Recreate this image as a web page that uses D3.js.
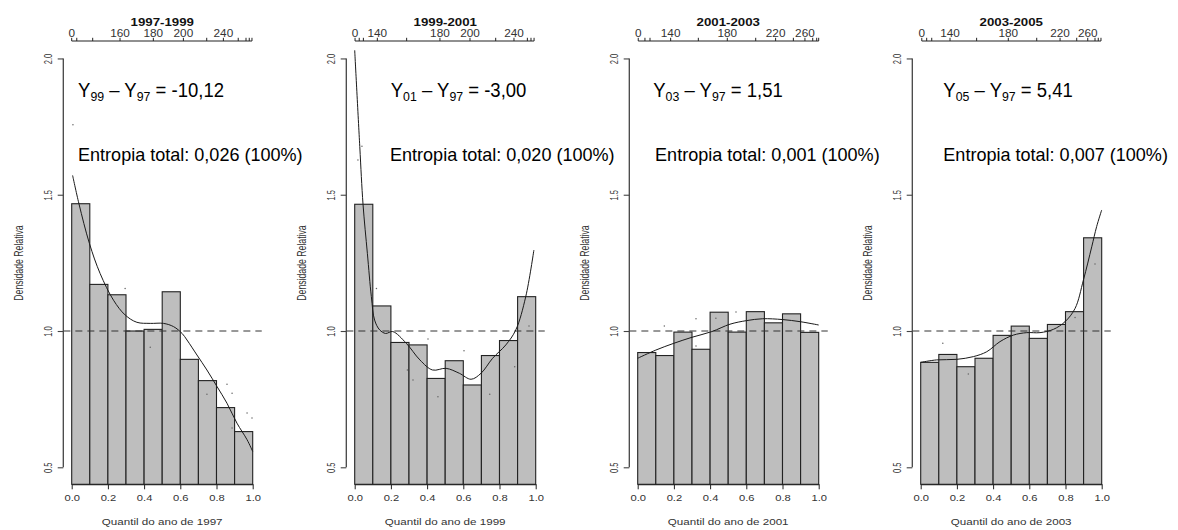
<!DOCTYPE html>
<html><head><meta charset="utf-8">
<script src="https://cdn.jsdelivr.net/npm/d3@7"></script>
<style>
html,body{margin:0;padding:0;background:#fff;}
svg{display:block;font-family:"Liberation Sans",Arial,sans-serif;}
</style></head>
<body>
<svg id="chart" width="1178" height="530"></svg>
<script>
// ---------- data ----------
const binEdges = [0,0.1,0.2,0.3,0.4,0.5,0.6,0.7,0.8,0.9,1.0];
const panelTitles = ["1997-1999","1999-2001","2001-2003","2003-2005"];
const xAxisTitles = ["Quantil do ano de 1997","Quantil do ano de 1999","Quantil do ano de 2001","Quantil do ano de 2003"];
const yAxisTitle = "Densidade Relativa";
const yTicks = [0.5,1.0,1.5,2.0];
const xTicks = [0,0.2,0.4,0.6,0.8,1.0];
const diffSub = ["99","01","03","05"];
const diffBaseSub = "97";
const diffValues = ["-10,12","-3,00","1,51","5,41"];
const entropyValues = ["0,026","0,020","0,001","0,007"];

const bars1 = [1.467,1.171,1.133,1.000,1.006,1.144,0.896,0.818,0.719,0.631];
const bars2 = [1.465,1.092,0.958,0.949,0.826,0.891,0.802,0.910,0.965,1.126];
const bars3 = [0.921,0.910,0.996,0.933,1.069,0.996,1.071,1.030,1.063,0.995];
const bars4 = [0.885,0.914,0.869,0.900,0.984,1.018,0.973,1.024,1.071,1.342];

const curve1X = [0.005,0.04,0.098,0.157,0.231,0.295,0.36,0.434,0.507,0.563,0.61,0.637,0.692,0.747,0.803,0.858,0.913,0.969,1.0];
const curve1Y = [1.571,1.467,1.321,1.211,1.113,1.059,1.032,1.028,1.028,1.016,0.991,0.967,0.912,0.857,0.796,0.735,0.662,0.601,0.558];
const curve2X = [0.0,0.028,0.046,0.07,0.092,0.11,0.138,0.171,0.21,0.285,0.36,0.43,0.505,0.578,0.643,0.698,0.762,0.835,0.89,0.945,0.99];
const curve2Y = [2.03,1.677,1.465,1.285,1.126,1.04,1.004,0.991,0.998,0.955,0.894,0.857,0.863,0.845,0.823,0.845,0.9,0.949,1.004,1.126,1.297];
const curve3X = [0,0.1,0.2,0.3,0.41,0.51,0.6,0.69,0.8,0.9,1.0];
const curve3Y = [0.9,0.93,0.955,0.977,0.998,1.025,1.038,1.045,1.042,1.034,1.022];
const curve4X = [0,0.088,0.199,0.291,0.365,0.438,0.512,0.586,0.659,0.733,0.797,0.853,0.899,0.945,0.972,1.0];
const curve4Y = [0.885,0.894,0.896,0.906,0.924,0.961,0.985,0.994,0.994,1.006,1.034,1.083,1.187,1.309,1.383,1.444];

const dots1 = [[0.007,1.757],[0.295,1.156],[0.434,0.94],[0.747,0.768],[0.858,0.805],[0.886,0.772],[0.969,0.699],[0.996,0.681],[0.886,0.644]];
const dots2 = [[0.04,1.678],[0.018,1.627],[0.12,1.156],[0.405,0.971],[0.604,0.928],[0.291,0.857],[0.322,0.82],[0.46,0.759],[0.746,0.768],[0.884,0.869],[0.963,1.018]];
const dots3 = [[0.147,1.018],[0.322,1.045],[0.322,0.945],[0.432,1.047],[0.543,1.07]];
const dots4 = [[0.122,0.955],[0.263,0.842],[0.853,1.05],[0.963,1.246]];

// top axis: original-value ticks placed at their quantile
const topTickPos1 = [0,0.028,0.116,0.267,0.451,0.617,0.746,0.838,0.920,0.963,0.981,0.996];
const topTickVal1 = ["0","120","140","160","180","200","220","240","260","280","300","320"];
const topTickShow1 = ["0","160","180","200","240"];
const topTickPos2 = [0.002,0.025,0.048,0.125,0.287,0.471,0.637,0.779,0.880,0.954,0.974,0.991];
const topTickVal2 = ["0","100","120","140","160","180","200","220","240","260","280","300"];
const topTickShow2 = ["0","140","180","200","240"];
const topTickPos3 = [0.003,0.040,0.068,0.182,0.335,0.495,0.652,0.762,0.860,0.924,0.967,0.989,1.0];
const topTickVal3 = ["0","100","120","140","160","180","200","220","240","260","280","300","320"];
const topTickShow3 = ["0","140","180","220","260"];
const topTickPos4 = [0.006,0.033,0.061,0.162,0.309,0.484,0.641,0.770,0.862,0.923,0.963,0.981,0.996];
const topTickVal4 = ["0","100","120","140","160","180","200","220","240","260","280","300","320"];
const topTickShow4 = ["0","140","180","220","260"];

const textPosY = [0.035,0.199,0.086,0.125];
const textPosE = [0.035,0.195,0.096,0.125];

const panels = [
  {bars:bars1, cx:curve1X, cy:curve1Y, dots:dots1, tp:topTickPos1, tv:topTickVal1, ts:topTickShow1},
  {bars:bars2, cx:curve2X, cy:curve2Y, dots:dots2, tp:topTickPos2, tv:topTickVal2, ts:topTickShow2},
  {bars:bars3, cx:curve3X, cy:curve3Y, dots:dots3, tp:topTickPos3, tv:topTickVal3, ts:topTickShow3},
  {bars:bars4, cx:curve4X, cy:curve4Y, dots:dots4, tp:topTickPos4, tv:topTickVal4, ts:topTickShow4}
];

// ---------- drawing ----------
const svg = d3.select("#chart");
const y = d3.scaleLinear().domain([0.4376, 2.064]).range([484.3, 41]);
const ink = "#222";
const smallInk = "#333";

panels.forEach((p, k) => {
  const x0 = 71.7 + k*283;
  const x = d3.scaleLinear().domain([0,1]).range([x0, x0+181]);
  const g = svg.append("g");

  // bars
  g.selectAll("rect.bar").data(p.bars).join("rect")
    .attr("x", (d,i) => x(binEdges[i]))
    .attr("width", (d,i) => x(binEdges[i+1]) - x(binEdges[i]))
    .attr("y", d => y(d))
    .attr("height", d => y.range()[0] - y(d))
    .attr("fill", "#bebebe").attr("stroke", ink).attr("stroke-width", 1.1);

  // reference line
  g.append("line")
    .attr("x1", x(-0.046)).attr("x2", x(1.05))
    .attr("y1", y(1)).attr("y2", y(1))
    .attr("stroke", "#333").attr("stroke-width", 1).attr("stroke-dasharray", "7,5");

  // dots
  g.selectAll("circle").data(p.dots).join("circle")
    .attr("cx", d => x(d[0])).attr("cy", d => y(d[1]))
    .attr("r", 0.75).attr("fill", "#666");

  // smooth curve
  const pts = p.cx.map((v,i) => [v, p.cy[i]]);
  g.append("path").datum(pts)
    .attr("d", d3.line().x(d => x(d[0])).y(d => y(d[1])).curve(d3.curveCatmullRom.alpha(0.5)))
    .attr("fill", "none").attr("stroke", "#1a1a1a").attr("stroke-width", 1);

  // bottom axis
  const bAxis = g.append("g").attr("transform", `translate(0,${y.range()[0]})`)
    .call(d3.axisBottom(x).tickValues(xTicks).tickSize(5).tickSizeOuter(0).tickFormat(d3.format(".1f")));
  bAxis.select(".domain").attr("stroke", ink).attr("stroke-width", 1.1);
  bAxis.selectAll(".tick line").attr("stroke", ink);
  bAxis.selectAll(".tick text").attr("font-size", 9.3).attr("fill", smallInk)
    .attr("font-family", "Liberation Sans, Arial, sans-serif")
    .attr("y", 0).attr("dy", 0)
    .attr("transform", "translate(0,16.7) scale(1.2,1)");

  // x title
  g.append("text").attr("transform", `translate(${x(0.5)},525) scale(1.25,1)`)
    .attr("text-anchor", "middle").attr("font-size", 9.3).attr("fill", smallInk)
    .text(xAxisTitles[k]);

  // left axis
  const axX = x0 - 8.4;
  const lAxis = g.append("g").attr("transform", `translate(${axX},0)`)
    .call(d3.axisLeft(y).tickValues(yTicks).tickSize(5.6).tickSizeOuter(0).tickFormat(d3.format(".1f")));
  lAxis.select(".domain").attr("d", `M0,${y(0.5)}V${y(2.0)}`).attr("stroke", "#444").attr("stroke-width", 1.3);
  lAxis.selectAll(".tick line").attr("stroke", "#444").attr("stroke-width", 1.1);
  lAxis.selectAll(".tick text").attr("font-size", 7.5).attr("fill", smallInk)
    .attr("font-family", "Liberation Sans, Arial, sans-serif")
    .attr("x", 0).attr("dy", 0).attr("text-anchor", "middle")
    .attr("transform", "translate(-11.6,0) rotate(-90) scale(1,1.4)");

  g.append("text").attr("transform", `translate(${axX-40},263) rotate(-90) scale(1,1.45)`)
    .attr("text-anchor", "middle").attr("font-size", 8.7).attr("fill", smallInk)
    .text(yAxisTitle);

  // top axis (quantile positions of original values)
  const tg = g.append("g");
  tg.append("line").attr("x1", x(d3.min(p.tp))).attr("x2", x(d3.max(p.tp)))
    .attr("y1", 41).attr("y2", 41).attr("stroke", ink).attr("stroke-width", 1.1);
  tg.selectAll("line.tk").data(p.tp).join("line").attr("class","tk")
    .attr("x1", d => x(d)).attr("x2", d => x(d)).attr("y1", 41).attr("y2", 37.8)
    .attr("stroke", ink).attr("stroke-width", 1);
  tg.selectAll("text.tl").data(p.tp.map((v,i) => ({q:v, lab:p.tv[i]})).filter(d => p.ts.includes(d.lab)))
    .join("text").attr("class","tl")
    .attr("transform", d => `translate(${x(d.q)},36.7) scale(1.18,1)`)
    .attr("text-anchor", "middle").attr("font-size", 10).attr("fill", smallInk)
    .text(d => d.lab);
  tg.append("text").attr("transform", `translate(${x(0.5)},25.7) scale(1.3,1)`)
    .attr("text-anchor", "middle").attr("font-size", 10.2).attr("font-weight", "bold").attr("fill", "#111")
    .text(panelTitles[k]);

  // annotations
  const t1 = g.append("text").attr("transform", `translate(${x(textPosY[k])},97.3) scale(0.95,1)`)
    .attr("font-size", 19.5).attr("fill", "#000");
  t1.append("tspan").text("Y");
  t1.append("tspan").attr("font-size", 13).attr("dy", 4).text(diffSub[k]);
  t1.append("tspan").attr("dy", -4).text(" \u2013 Y");
  t1.append("tspan").attr("font-size", 13).attr("dy", 4).text(diffBaseSub);
  t1.append("tspan").attr("dy", -4).text(" = " + diffValues[k]);

  g.append("text").attr("transform", `translate(${x(textPosE[k])},161) scale(0.95,1)`)
    .attr("font-size", 19).attr("fill", "#000")
    .text("Entropia total: " + entropyValues[k] + " (100%)");
});
</script>
</body></html>
